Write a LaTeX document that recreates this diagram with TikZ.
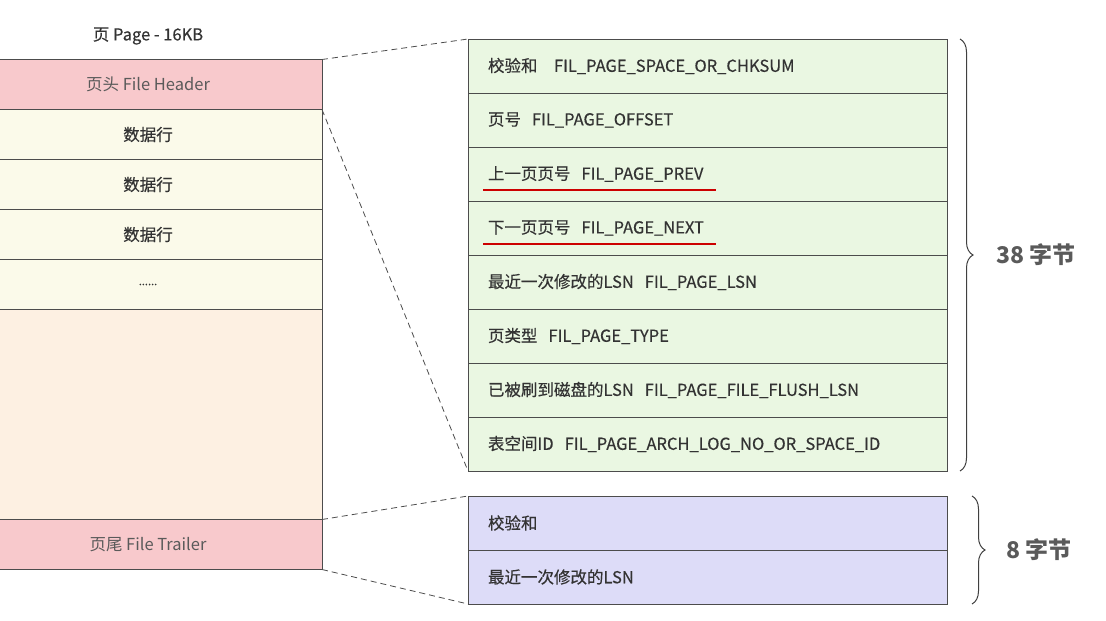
\documentclass[tikz,border=0pt]{standalone}
\usepackage{fontspec}
\setmainfont{Noto Sans CJK SC}
\newfontfamily\medfont{Noto Sans CJK SC}[FakeBold=0.4]
\usetikzlibrary{positioning,decorations.pathreplacing}

\definecolor{hdrpink}{HTML}{F8C9CC}
\definecolor{rowcream}{HTML}{FBFAEA}
\definecolor{freepeach}{HTML}{FDF0E2}
\definecolor{fieldgreen}{HTML}{EAF7E2}
\definecolor{trailblue}{HTML}{DDDCF8}
\definecolor{txtdark}{HTML}{333333}
\definecolor{txtsoft}{HTML}{5A5A5A}

\begin{document}
\begin{tikzpicture}[
    x=1pt, y=-1pt,
    every node/.style={font=\medfont\fontsize{16.5}{19}\selectfont, text=txtdark, outer sep=0pt},
    pagebox/.style={draw=black!70, line width=1pt, minimum width=348pt,
                    minimum height=50pt, inner sep=0pt},
    soft/.style={font=\fontsize{16.5}{19}\selectfont, text=txtsoft},
    fieldbox/.style={draw=black!70, line width=1pt, fill=fieldgreen,
                     minimum width=479pt, minimum height=54pt, text width=439pt,
                     inner xsep=20pt, inner ysep=0pt, align=left},
    link/.style={draw=black!70, dash pattern=on 6pt off 4pt, line width=0.8pt},
    bytebrace/.style={decorate, decoration={brace, amplitude=13pt},
                      draw=black!75, line width=1pt},
    redline/.style={draw=red!80!black, line width=1.5pt},
    bytelabel/.style={font=\fontsize{23}{26}\selectfont\bfseries, text=txtsoft, anchor=west}
  ]
  \useasboundingbox (0,0) rectangle (1106,621);

  % left: the page
  \node (ttl) at (148,36) {页 Page - 16KB};
  \node[pagebox, fill=hdrpink, soft] (hdr) at (148,84.5) {页头 File Header};
  \node[pagebox, fill=rowcream, below=0pt of hdr] (row1) {数据行};
  \node[pagebox, fill=rowcream, below=0pt of row1] (row2) {数据行};
  \node[pagebox, fill=rowcream, below=0pt of row2] (row3) {数据行};
  \node[pagebox, fill=rowcream, below=0pt of row3] (rowdots) {\fontsize{11}{12}\selectfont ......};
  \node[pagebox, fill=freepeach, minimum height=210pt, below=0pt of rowdots] (free) {};
  \node[pagebox, fill=hdrpink, soft, below=0pt of free] (trl) {页尾 File Trailer};

  % right: File Header fields
  \node[fieldbox] (g1) at (707.5,66) {校验和~~~FIL\_PAGE\_SPACE\_OR\_CHKSUM};
  \node[fieldbox, below=0pt of g1] (g2) {页号~~FIL\_PAGE\_OFFSET};
  \node[fieldbox, below=0pt of g2] (g3) {上一页页号~~FIL\_PAGE\_PREV};
  \node[fieldbox, below=0pt of g3] (g4) {下一页页号~~FIL\_PAGE\_NEXT};
  \node[fieldbox, below=0pt of g4] (g5) {最近一次修改的LSN~~FIL\_PAGE\_LSN};
  \node[fieldbox, below=0pt of g5] (g6) {页类型~~FIL\_PAGE\_TYPE};
  \node[fieldbox, below=0pt of g6] (g7) {已被刷到磁盘的LSN~~FIL\_PAGE\_FILE\_FLUSH\_LSN};
  \node[fieldbox, below=0pt of g7] (g8) {表空间ID~~FIL\_PAGE\_ARCH\_LOG\_NO\_OR\_SPACE\_ID};

  % File Trailer fields
  \node[fieldbox, fill=trailblue] (b1) at (707.5,523) {校验和};
  \node[fieldbox, fill=trailblue, below=0pt of b1] (b2) {最近一次修改的LSN};

  % underlines
  \draw[redline] ([xshift=15pt,yshift=11pt]g3.south west) -- ([xshift=248pt,yshift=11pt]g3.south west);
  \draw[redline] ([xshift=15pt,yshift=11pt]g4.south west) -- ([xshift=248pt,yshift=11pt]g4.south west);

  % zoom lines
  \draw[link] (hdr.north east) -- (g1.north west);
  \draw[link] (hdr.south east) -- (g8.south west);
  \draw[link] (trl.north east) -- (b1.north west);
  \draw[link] (trl.south east) -- (b2.south west);

  % byte counts
  \draw[bytebrace] ([xshift=13pt]g1.north east) -- ([xshift=13pt]g8.south east)
    node[midway, xshift=33pt, bytelabel] (sz38) {38 字节};
  \draw[bytebrace] ([xshift=25pt]b1.north east) -- ([xshift=25pt]b2.south east)
    node[midway, xshift=31pt, bytelabel] (sz8) {8 字节};
\end{tikzpicture}
\end{document}
